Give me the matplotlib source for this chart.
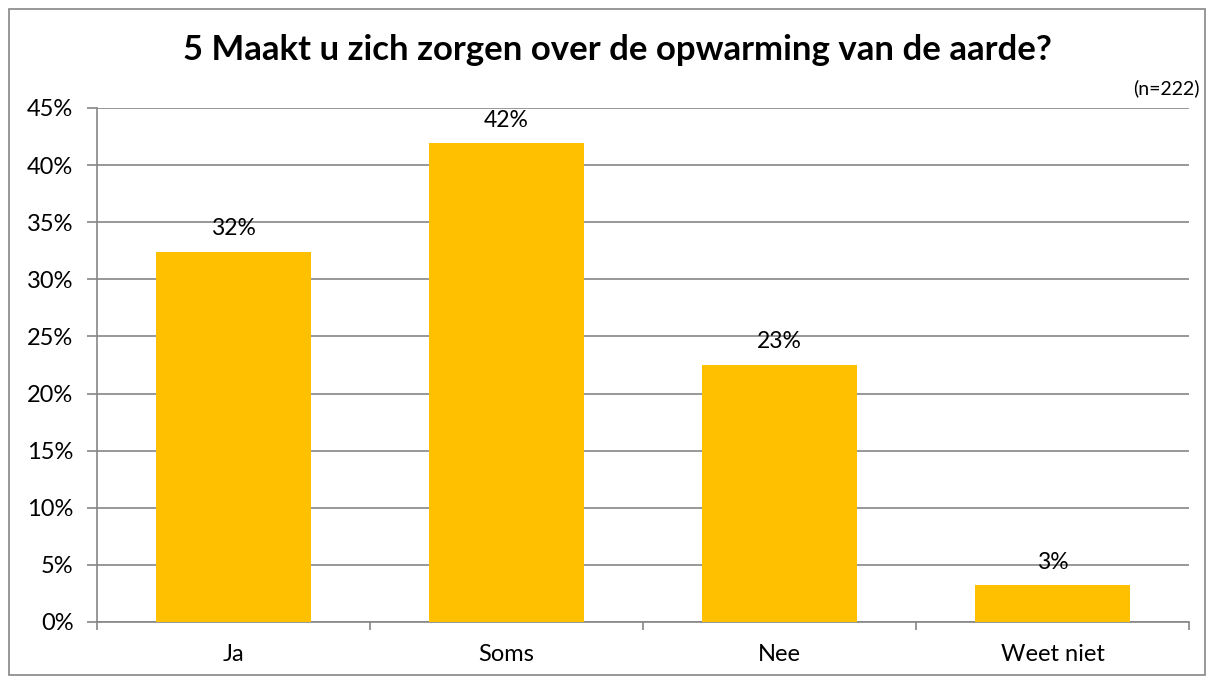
import matplotlib
matplotlib.use("Agg")
import matplotlib.pyplot as plt
from matplotlib.patches import Rectangle
from matplotlib.ticker import MultipleLocator, FuncFormatter

categories = ["Ja", "Soms", "Nee", "Weet niet"]
values = [32.4, 41.9, 22.5, 3.2]
labels = ["32%", "42%", "23%", "3%"]
title = "5 Maakt u zich zorgen over de opwarming van de aarde?"
note = "(n=222)"

W, H = 1214, 684
fig = plt.figure(figsize=(W / 100, H / 100), dpi=100)
plt.rcParams['font.family'] = ['Lato', 'DejaVu Sans']

ax = fig.add_axes([97 / W, 1 - 622 / H, (1189 - 97) / W, (622 - 108) / H])
x = list(range(len(categories)))
ax.bar(x, values, width=0.57, color="#FFC000", zorder=3)
ax.set_xlim(-0.5, len(categories) - 0.5)
ax.set_ylim(0, 45)
ax.yaxis.set_major_locator(MultipleLocator(5))
ax.yaxis.set_major_formatter(FuncFormatter(lambda v, p: f"{int(round(v))}%"))
ax.grid(axis="y", color="#868686", linewidth=1.2, zorder=0)
for s in ["top", "right"]:
    ax.spines[s].set_visible(False)
for s in ["left", "bottom"]:
    ax.spines[s].set_color("#868686")
    ax.spines[s].set_linewidth(1.2)
ax.set_xticks(x)
ax.set_xticklabels(categories, fontsize=17)
ax.set_xticks([i - 0.5 for i in range(len(categories) + 1)], minor=True)
ax.tick_params(axis="x", which="major", length=0, pad=16)
ax.tick_params(axis="x", which="minor", length=6, width=1.2, color="#868686", direction="out")
ax.tick_params(axis="y", length=7, width=1.2, color="#868686", labelsize=17, pad=10)

for xi, v, lab in zip(x, values, labels):
    ax.annotate(lab, (xi, v), xytext=(0, 9), textcoords="offset points",
                ha="center", va="bottom", fontsize=16.5)

fig.text(617 / W, 1 - 50 / H, title, ha="center", va="center", fontsize=25, fontweight="bold")
fig.text(1200 / W, 1 - 88 / H, note, ha="right", va="center", fontsize=14)

fig.patches.append(Rectangle((9 / W, 9 / H), (W - 18) / W, (H - 18) / H,
                             transform=fig.transFigure, fill=False,
                             edgecolor="#868686", linewidth=1.2))

fig.savefig("out.png", dpi=100)
